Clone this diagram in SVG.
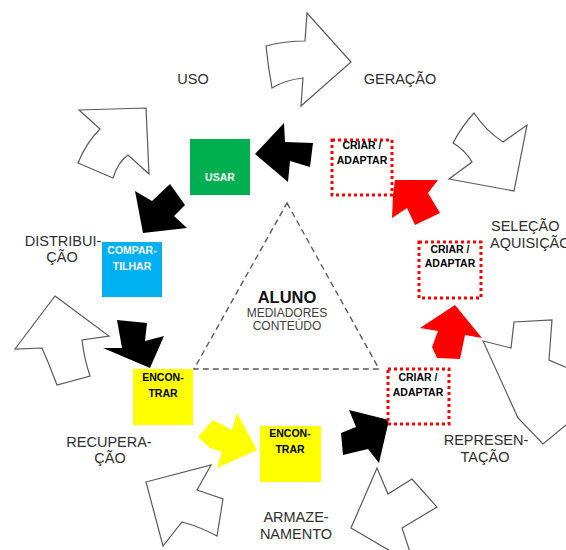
<svg xmlns="http://www.w3.org/2000/svg" width="566" height="550" viewBox="0 0 566 550">
  <style>
    .outline { fill: #ffffff; stroke: #595959; stroke-width: 1.2; stroke-linejoin: miter; }
    .blk { fill: #000000; }
    .red { fill: #ff0000; }
    .yel { fill: #ffff00; }
    .lbl { font-family: "Liberation Sans", Arial, sans-serif; font-size: 14.5px; fill: #2f2f2f; text-anchor: middle; }
    .box { font-family: "Liberation Sans", Arial, sans-serif; font-size: 10.5px; font-weight: bold; text-anchor: middle; }
    .dotted { fill: #ffffff; stroke: #ff0000; stroke-width: 3; stroke-dasharray: 3 3; }
  </style>

  <!-- stage arrows (outlined) -->
  <g id="outer-arrows">
    <path class="outline" d="M266,46 Q285,41 305,41 L307,13 L351,62 L301,106 L303,78 Q285,80 272,88 Q268,66 266,46 Z"/>
    <path class="outline" d="M79,110 L146,108 L149,174 L128,155 Q118,162 113,178 L78,163 Q86,143 100,129 Z"/>
    <path class="outline" d="M474,113 Q486,131 503,142 L527,125 L514,191 L449,179 L472,162 Q465,150 453,143 Q462,126 474,113 Z"/>
    <path class="outline" d="M55,296 L109,336 L82,340 Q84,358 90,376 L57,385 Q50,366 42,348 L15,349 Z"/>
    <path class="outline" d="M483,341 L511,348 L514,322 L552,320 L549,360 L572,370 L572,420 L543,444 L518,418 Z"/>
    <path class="outline" d="M377,468 L388,494 L412,479 L437,507 L402,528 L410,552 L392,552 L351,528 Z"/>
    <path class="outline" d="M146,482 L211,465 L197,490 L223,499 L217,536 Q198,526 182,522 L163,546 Z"/>
  </g>

  <!-- flow arrows between the steps -->
  <g id="connectors">
    <path class="blk" d="M255,154 L284,123 L285,142 L313,143 L310,167 L290,161 L288,182 Z"/>
    <path class="blk" d="M143,233 L135,191 L152,201 L170,184 L185,205 L174,216 L187,228 Z"/>
    <path class="blk" d="M117,320 L147,323 L145,341 L164,336 L150,368 L103,348 L122,348 Z"/>
    <path class="yel" d="M198,437 L213,420 L232,430 L237,413 L257,450 L217,468 L222,452 L210,448 Z"/>
    <path class="blk" d="M349,410 L389,420 L379,463 L368,449 L343,455 L341,433 L356,427 Z"/>
    <path class="red" d="M455,305 L482,338 L465,335 L460,359 L437,358 L432,347 L438,331 L420,328 Z"/>
    <path class="red" d="M395,180 L438,180 L428,193 L440,213 L415,225 L407,208 L392,218 L393,195 Z"/>
  </g>

  <!-- centre triangle -->
  <g id="centre">
    <polygon points="287,203 379,369 194,369" fill="none" stroke="#595959" stroke-width="1.4" stroke-dasharray="6 4"/>
    <text x="287" y="303" font-family="'Liberation Sans', Arial, sans-serif" font-size="16.5" font-weight="bold" fill="#111" text-anchor="middle">ALUNO</text>
    <text x="287" y="317" font-family="'Liberation Sans', Arial, sans-serif" font-size="12" fill="#404040" text-anchor="middle">MEDIADORES</text>
    <text x="287" y="330" font-family="'Liberation Sans', Arial, sans-serif" font-size="12" fill="#404040" text-anchor="middle">CONTEÚDO</text>
  </g>

  <g id="usar">
    <rect x="190" y="139" width="60" height="56" fill="#00b050"/>
    <text class="box" x="220" y="181" fill="#ffffff" font-size="11">USAR</text>
  </g>

  <g id="compartilhar">
    <rect x="102" y="242" width="60" height="55" fill="#00b0f0"/>
    <text class="box" x="132" y="254" fill="#ffffff" font-size="11.5">COMPAR-</text>
    <text class="box" x="132" y="270" fill="#ffffff" font-size="11.5">TILHAR</text>
  </g>

  <g id="encontrar-1">
    <rect x="133" y="369" width="60" height="56" fill="#ffff00"/>
    <text class="box" x="163" y="381" fill="#000">ENCON-</text>
    <text class="box" x="163" y="397" fill="#000">TRAR</text>
  </g>

  <g id="encontrar-2">
    <rect x="260" y="426" width="61" height="56" fill="#ffff00"/>
    <text class="box" x="290" y="437" fill="#000">ENCON-</text>
    <text class="box" x="290" y="453" fill="#000">TRAR</text>
  </g>

  <g id="criar-1">
    <rect class="dotted" x="332" y="140" width="60" height="55"/>
    <text class="box" x="362" y="149" fill="#000">CRIAR /</text>
    <text class="box" x="362" y="164" fill="#000">ADAPTAR</text>
  </g>

  <g id="criar-2">
    <rect class="dotted" x="419" y="242" width="62" height="56"/>
    <text class="box" x="450" y="253" fill="#000">CRIAR /</text>
    <text class="box" x="450" y="267" fill="#000">ADAPTAR</text>
  </g>

  <g id="criar-3">
    <rect class="dotted" x="388" y="369" width="61" height="55"/>
    <text class="box" x="418" y="381" fill="#000">CRIAR /</text>
    <text class="box" x="418" y="396" fill="#000">ADAPTAR</text>
  </g>

  <!-- stage names -->
  <g id="labels">
    <text class="lbl" x="193" y="84">USO</text>
    <text class="lbl" x="400" y="84">GERAÇÃO</text>
    <text class="lbl" x="491" y="231" style="text-anchor:start">SELEÇÃO</text>
    <text class="lbl" x="490" y="248" style="text-anchor:start">AQUISIÇÃO</text>
    <text class="lbl" x="63" y="246">DISTRIBUI-</text>
    <text class="lbl" x="62" y="262">ÇÃO</text>
    <text class="lbl" x="109" y="447">RECUPERA-</text>
    <text class="lbl" x="110" y="463">ÇÃO</text>
    <text class="lbl" x="486" y="445">REPRESEN-</text>
    <text class="lbl" x="485" y="462">TAÇÃO</text>
    <text class="lbl" x="296" y="522">ARMAZE-</text>
    <text class="lbl" x="296" y="539">NAMENTO</text>
  </g>
</svg>
